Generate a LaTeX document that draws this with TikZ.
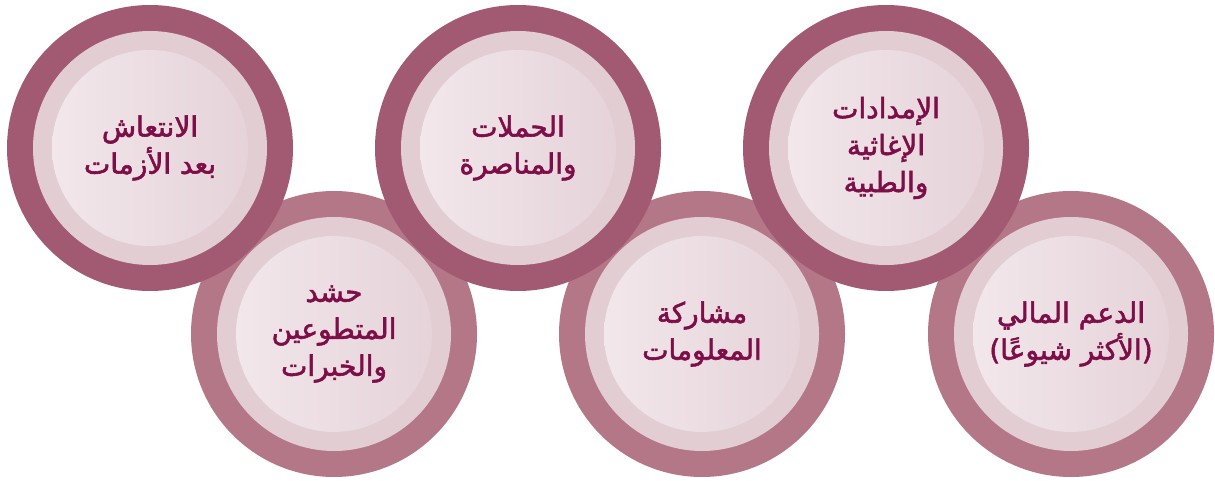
\documentclass[tikz,border=0pt]{standalone}
\usepackage{fontspec}
\newfontfamily\arabicfont[Script=Arabic,FakeBold=2]{DejaVu Sans}
\TeXXeTstate=1
\newcommand\ar[1]{{\arabicfont\beginR #1\endR}}
\definecolor{ringtop}{RGB}{162,89,114}
\definecolor{ringbot}{RGB}{179,119,136}
\definecolor{ringmid}{RGB}{226,205,211}
\definecolor{diskL}{RGB}{242,231,235}
\definecolor{diskR}{RGB}{229,211,217}
\definecolor{txt}{RGB}{126,14,72}
\tikzset{
  outerring/.style={circle, inner sep=0pt, minimum size=286pt},
  midring/.style={circle, inner sep=0pt, minimum size=234pt, fill=ringmid},
  disk/.style={circle, inner sep=0pt, minimum size=196pt,
    left color=diskL, right color=diskR, text=txt, align=center,
    font=\fontsize{28}{37}\selectfont},
}
\begin{document}
\begin{tikzpicture}[x=1pt, y=-1pt]
\useasboundingbox (0,0) rectangle (1215,481);

% lower row, drawn first so the upper row overlaps it
\node[outerring, fill=ringbot] (b1o) at (334,334) {};
\node[midring] (b1m) at (b1o) {};
\node[disk] (b1) at (b1o) {\ar{حشد}\\\ar{المتطوعين}\\\ar{والخبرات}};

\node[outerring, fill=ringbot] (b2o) at (702,334) {};
\node[midring] (b2m) at (b2o) {};
\node[disk] (b2) at (b2o) {\ar{مشاركة}\\\ar{المعلومات}};

\node[outerring, fill=ringbot] (b3o) at (1071,334) {};
\node[midring] (b3m) at (b3o) {};
\node[disk] (b3) at (b3o) {\ar{الدعم المالي}\\\ar{(الأكثر شيوعًا)}};

% upper row
\node[outerring, fill=ringtop] (t1o) at (150,148) {};
\node[midring] (t1m) at (t1o) {};
\node[disk] (t1) at (t1o) {\ar{الانتعاش}\\\ar{بعد الأزمات}};

\node[outerring, fill=ringtop] (t2o) at (518,148) {};
\node[midring] (t2m) at (t2o) {};
\node[disk] (t2) at (t2o) {\ar{الحملات}\\\ar{والمناصرة}};

\node[outerring, fill=ringtop] (t3o) at (886,148) {};
\node[midring] (t3m) at (t3o) {};
\node[disk] (t3) at (t3o) {\ar{الإمدادات}\\\ar{الإغاثية}\\\ar{والطبية}};
\end{tikzpicture}
\end{document}
